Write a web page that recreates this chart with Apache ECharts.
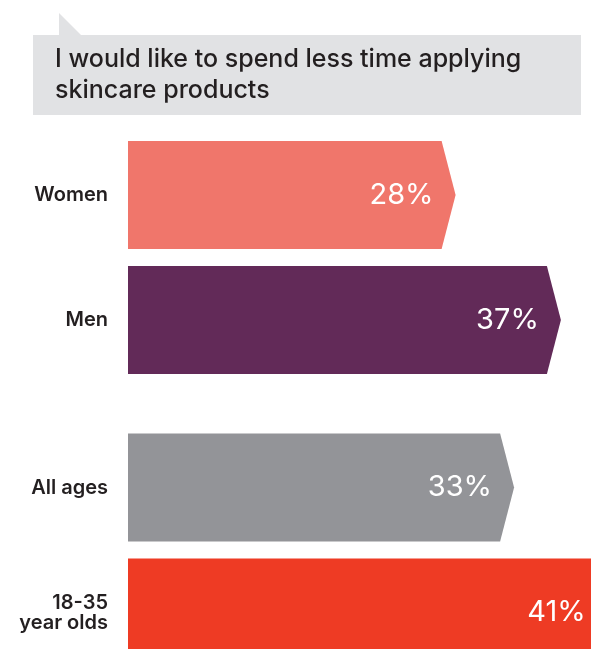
<!DOCTYPE html>
<html>
<head>
<meta charset="utf-8">
<script src="https://cdn.jsdelivr.net/npm/echarts@6/dist/echarts.min.js"></script>
<style>
  html, body { margin: 0; padding: 0; background: #fff; }
  #main { width: 591px; height: 649px; }
</style>
</head>
<body>
<div id="main"></div>
<script>
// data
var titleText = 'I would like to spend less time applying\nskincare products';
var genderCats = ['Women', 'Men'];
var genderValues = [28, 37];
var ageCats = ['All ages', '18-35\nyear olds'];
var ageValues = [33, 41];

// colours
var genderColors = ['#f0766b', '#622a58'];
var ageColors = ['#939498', '#ee3b24'];

var BAR_H = 108;
var TIP = 14;

function makeRender(colors) {
    return function (params, api) {
        var v = api.value(0);
        var start = api.coord([0, api.value(1)]);
        var end = api.coord([v, api.value(1)]);
        var x0 = start[0], x1 = end[0], yc = start[1];
        var top = yc - BAR_H / 2, bot = yc + BAR_H / 2;
        return {
            type: 'group',
            children: [
                {
                    type: 'polygon',
                    shape: { points: [[x0, top], [x1 - TIP, top], [x1, yc], [x1 - TIP, bot], [x0, bot]] },
                    style: { fill: colors[params.dataIndex] }
                },
                {
                    type: 'text',
                    style: {
                        text: v + '%',
                        x: x1 - 22,
                        y: yc,
                        align: 'right',
                        verticalAlign: 'middle',
                        fill: '#fff',
                        font: '400 29px Inter'
                    }
                }
            ]
        };
    };
}

var catAxis = function (cats, idx) {
    return {
        type: 'category',
        gridIndex: idx,
        data: cats,
        inverse: true,
        axisLine: { show: false },
        axisTick: { show: false },
        axisLabel: {
            margin: 20,
            color: '#231f20',
            fontFamily: 'Inter',
            fontSize: 20,
            fontWeight: 600,
            lineHeight: 20,
            align: 'right'
        }
    };
};

var valAxis = function (idx) {
    return { type: 'value', gridIndex: idx, min: 0, max: 50, show: false, splitLine: { show: false } };
};

var myChart = echarts.init(document.getElementById('main'));
myChart.setOption({
    animation: false,
    title: {
        text: titleText,
        left: 50,
        top: 39,
        textStyle: {
            fontFamily: 'Inter',
            fontSize: 25,
            fontWeight: 500,
            lineHeight: 31,
            color: '#231f20'
        }
    },
    graphic: [
        { type: 'rect', z: -1, shape: { x: 33, y: 35, width: 548, height: 80 }, style: { fill: '#e1e2e4' } },
        { type: 'polygon', z: -1, shape: { points: [[59, 13], [59, 35], [81, 35]] }, style: { fill: '#e1e2e4' } }
    ],
    grid: [
        { left: 128, top: 132.5, width: 585, height: 250, outerBoundsMode: 'none' },
        { left: 128, top: 425, width: 585, height: 250, outerBoundsMode: 'none' }
    ],
    xAxis: [valAxis(0), valAxis(1)],
    yAxis: [catAxis(genderCats, 0), catAxis(ageCats, 1)],
    series: [
        {
            type: 'custom',
            xAxisIndex: 0,
            yAxisIndex: 0,
            clip: false,
            renderItem: makeRender(genderColors),
            data: genderValues.map(function (v, i) { return [v, i]; })
        },
        {
            type: 'custom',
            xAxisIndex: 1,
            yAxisIndex: 1,
            clip: false,
            renderItem: makeRender(ageColors),
            data: ageValues.map(function (v, i) { return [v, i]; })
        }
    ]
});
</script>
</body>
</html>
